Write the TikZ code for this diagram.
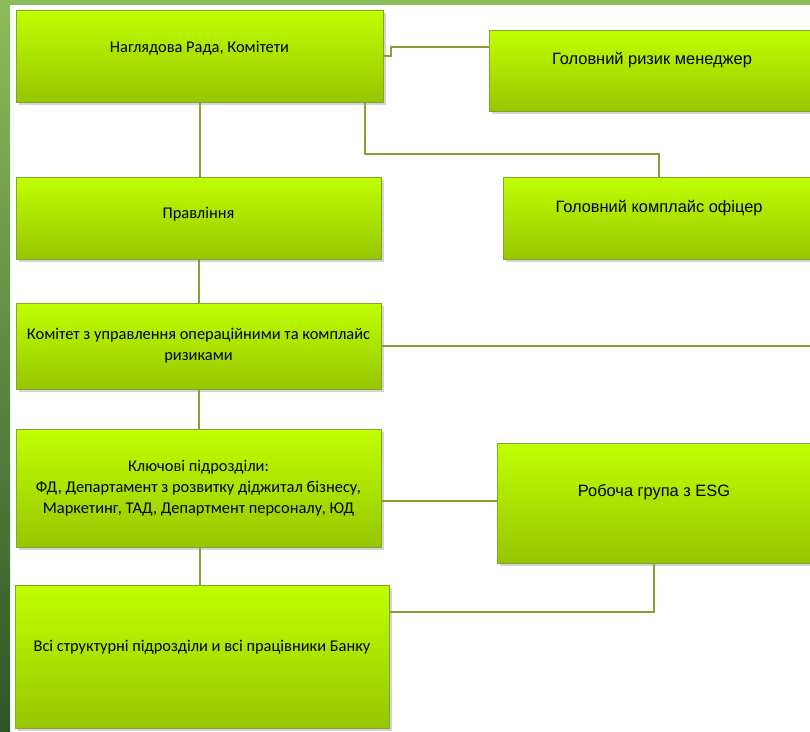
\documentclass[tikz,border=0pt]{standalone}
\usepackage{fontspec}
\setmainfont{Carlito}
\newfontfamily\arialfont{Liberation Sans}
\usetikzlibrary{shadows}
\definecolor{limetop}{HTML}{C0FF00}
\definecolor{limemid}{HTML}{B2EE00}
\definecolor{limebot}{HTML}{97C600}
\definecolor{limeedge}{HTML}{84A52A}
\definecolor{linkgreen}{HTML}{86A236}
\definecolor{barlight}{HTML}{8DBC5A}
\definecolor{bardark}{HTML}{2D5527}

\begin{document}
\begin{tikzpicture}[
   x=1pt, y=-1pt,
   font=\fontsize{16.4}{21}\selectfont,
   box/.style={rectangle, draw=limeedge, line width=1pt,
               top color=limetop, middle color=limemid, bottom color=limebot,
               align=center, inner sep=3pt, text=black,
               drop shadow={shadow xshift=2.5pt, shadow yshift=-2.5pt,
                            opacity=.3, fill=black!55}},
   rbox/.style={box, font=\arialfont\fontsize{16.4}{21}\selectfont},
   lift/.style={text height=12pt, text depth=#1},
   link/.style={draw=linkgreen, line width=2pt}]
 \clip (0,0) rectangle (810,731);
 \fill[white] (0,0) rectangle (810,731);
 \shade[top color=barlight, bottom color=bardark] (0,0) rectangle (10,731);
 \fill[barlight] (0,0) rectangle (810,5);
 \node[box, minimum width=367, minimum height=92, lift=20pt] (board) at (199.5,56)
      {Наглядова Рада, Комітети};
 \node[rbox, minimum width=326, minimum height=81, lift=24pt] (risk) at (652,70.5)
      {Головний ризик менеджер};
 \node[box, minimum width=365, minimum height=82, lift=12pt] (mgmt) at (198.5,218)
      {Правління};
 \node[rbox, minimum width=312, minimum height=82, lift=24pt] (compl) at (659,218)
      {Головний комплайс офіцер};
 \node[box, minimum width=365, minimum height=86] (comm) at (198.5,346)
      {Комітет з управлення операційними та комплайс\\ризиками};
 \node[box, minimum width=365, minimum height=118] (key) at (198.5,488)
      {Ключові підрозділи:\\ФД, Департамент з розвитку діджитал бізнесу,\\Маркетинг, ТАД, Департмент персоналу, ЮД};
 \node[rbox, minimum width=314, minimum height=120, lift=26pt] (esg) at (654,503)
      {Робоча група з ESG};
 \node[box, minimum width=374, minimum height=143, lift=22pt] (all) at (202,656.5)
      {Всі структурні підрозділи и всі працівники Банку};
 \coordinate (offright) at (830,346);
 \draw[link] (board.south) -- (board.south |- mgmt.north);
 \draw[link] (board.east) -- ++(7,0) |- ([yshift=23.5pt]risk.west);
 \draw[link] ([xshift=-19pt]board.south east) -- ++(0,51) -| (compl.north);
 \draw[link] (mgmt.south) -- (mgmt.south |- comm.north);
 \draw[link] (comm.east) -- (offright);
 \draw[link] (comm.south) -- (comm.south |- key.north);
 \draw[link] ([yshift=-12.5pt]key.east) -- ([yshift=-12.5pt]key.east -| esg.west);
 \draw[link] ([xshift=1.5pt]key.south) -- ([xshift=1.5pt]key.south |- all.north);
 \draw[link] ([yshift=44.5pt]all.east) -| (esg.south);
\end{tikzpicture}
\end{document}
